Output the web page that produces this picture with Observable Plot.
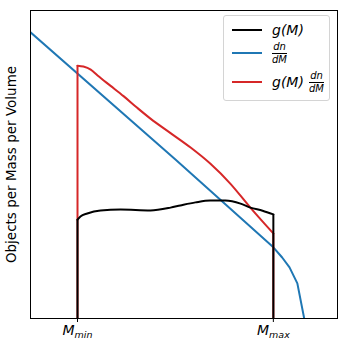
<!DOCTYPE html>
<html><head><meta charset="utf-8">
<script src="https://cdn.jsdelivr.net/npm/d3@7"></script>
<script src="https://cdn.jsdelivr.net/npm/@observablehq/plot@0.6"></script>
<style>
body{margin:0;background:#fff;font-family:"DejaVu Sans",sans-serif;}
#wrap{position:relative;width:348px;height:353px;}
.legend{position:absolute;left:223px;top:15px;width:107px;height:86px;border:1px solid #d4d4d4;border-radius:3px;background:rgba(255,255,255,0.85);box-sizing:border-box;}
.row{position:absolute;left:0;display:flex;align-items:center;height:22px;}
.sw{width:30px;height:2px;margin-left:8px;margin-right:10px;}
.m{font-style:italic;font-size:14px;}
.frac{display:inline-flex;flex-direction:column;align-items:center;font-size:10px;font-style:italic;line-height:1;}
.frac .num{border-bottom:1px solid #000;padding:0 1px 1px;}
.frac .den{padding-top:1px;}
</style></head>
<body>
<div id="wrap"></div>
<script>
// Tick positions and labels
const tickM = [10, 14];
const tickLabels = ["M_min", "M_max"];
const yLabel = "Objects per Mass per Volume";

// dn/dM (blue)
const blueM = [9.04, 12.0, 14.0, 14.18, 14.33, 14.49, 14.63];
const blueY = [9.29, 5.16, 2.31, 1.98, 1.66, 1.14, 0];

// g(M) (black), defined on [Mmin, Mmax]
const gM = [10.0, 10.06, 10.2, 10.47, 10.88, 11.49, 11.9, 12.1, 12.41, 12.71, 13.02, 13.33, 13.53, 13.78, 14.0];
const gY = [3.21, 3.31, 3.41, 3.51, 3.54, 3.51, 3.60, 3.67, 3.77, 3.83, 3.83, 3.73, 3.60, 3.50, 3.38];

// g(M) dn/dM (red), defined on [Mmin, Mmax]
const prodM = [10.0, 10.12, 10.27, 10.41, 10.67, 10.94, 11.22, 11.49, 11.9, 12.31, 12.71, 13.12, 13.53, 14.0];
const prodY = [8.21, 8.18, 8.08, 7.89, 7.56, 7.22, 6.84, 6.49, 6.02, 5.55, 5.03, 4.38, 3.60, 2.76];

const zip = (xs, ys) => xs.map((x, i) => ({M: x, v: ys[i]}));
const blue = zip(blueM, blueY), g = zip(gM, gY), prod = zip(prodM, prodY);
const ends = d => [d[0], d[d.length - 1]];

const plot = Plot.plot({
  width: 348, height: 353,
  marginLeft: 30, marginRight: 11, marginTop: 10, marginBottom: 35,
  x: {domain: [9.04, 15.31]},
  y: {domain: [0, 10]},
  style: {fontFamily: "DejaVu Sans", fontSize: "13px", color: "#000", background: "#fff"},
  marks: [
    Plot.line(blue, {x: "M", y: "v", stroke: "#1f77b4", strokeWidth: 2, clip: true}),
    Plot.line(prod, {x: "M", y: "v", stroke: "#d62728", strokeWidth: 2, curve: "monotone-x"}),
    Plot.ruleX(ends(prod), {x: "M", y1: 0, y2: "v", stroke: "#d62728", strokeWidth: 2}),
    Plot.line(g, {x: "M", y: "v", stroke: "#000", strokeWidth: 2, curve: "monotone-x"}),
    Plot.ruleX(ends(g), {x: "M", y1: 0, y2: "v", stroke: "#000", strokeWidth: 2}),
    Plot.frame({stroke: "#000", strokeWidth: 1}),
    Plot.axisX({ticks: tickM, tickFormat: (d, i) => tickLabels[i], tickSize: 4, tickPadding: 3, label: null, fontSize: 14}),
    Plot.axisY({ticks: [], label: yLabel, labelAnchor: "center", labelArrow: false, labelOffset: 24, fontSize: 13.5})
  ]
});
document.getElementById("wrap").appendChild(plot);

// Rich tick labels (italic M with subscript)
plot.querySelectorAll('[aria-label="x-axis tick label"] text').forEach(t => {
  const [base, sub] = t.textContent.split("_");
  t.textContent = "";
  const a = document.createElementNS("http://www.w3.org/2000/svg", "tspan");
  a.setAttribute("font-style", "italic"); a.setAttribute("font-size", "14");
  a.textContent = base;
  const b = document.createElementNS("http://www.w3.org/2000/svg", "tspan");
  b.setAttribute("font-style", "italic"); b.setAttribute("font-size", "9.5"); b.setAttribute("dy", "3");
  b.textContent = sub;
  t.appendChild(a); t.appendChild(b);
});

// Legend
const legend = document.createElement("div");
legend.className = "legend";
legend.innerHTML = `
  <div class="row" style="top:3px"><div class="sw" style="background:#000"></div><span class="m">g(M)</span></div>
  <div class="row" style="top:26px"><div class="sw" style="background:#1f77b4"></div><span class="frac"><span class="num">dn</span><span class="den">dM</span></span></div>
  <div class="row" style="top:55px"><div class="sw" style="background:#d62728"></div><span class="m">g(M)</span>&nbsp;<span class="frac"><span class="num">dn</span><span class="den">dM</span></span></div>`;
document.getElementById("wrap").appendChild(legend);
</script>
</body></html>
